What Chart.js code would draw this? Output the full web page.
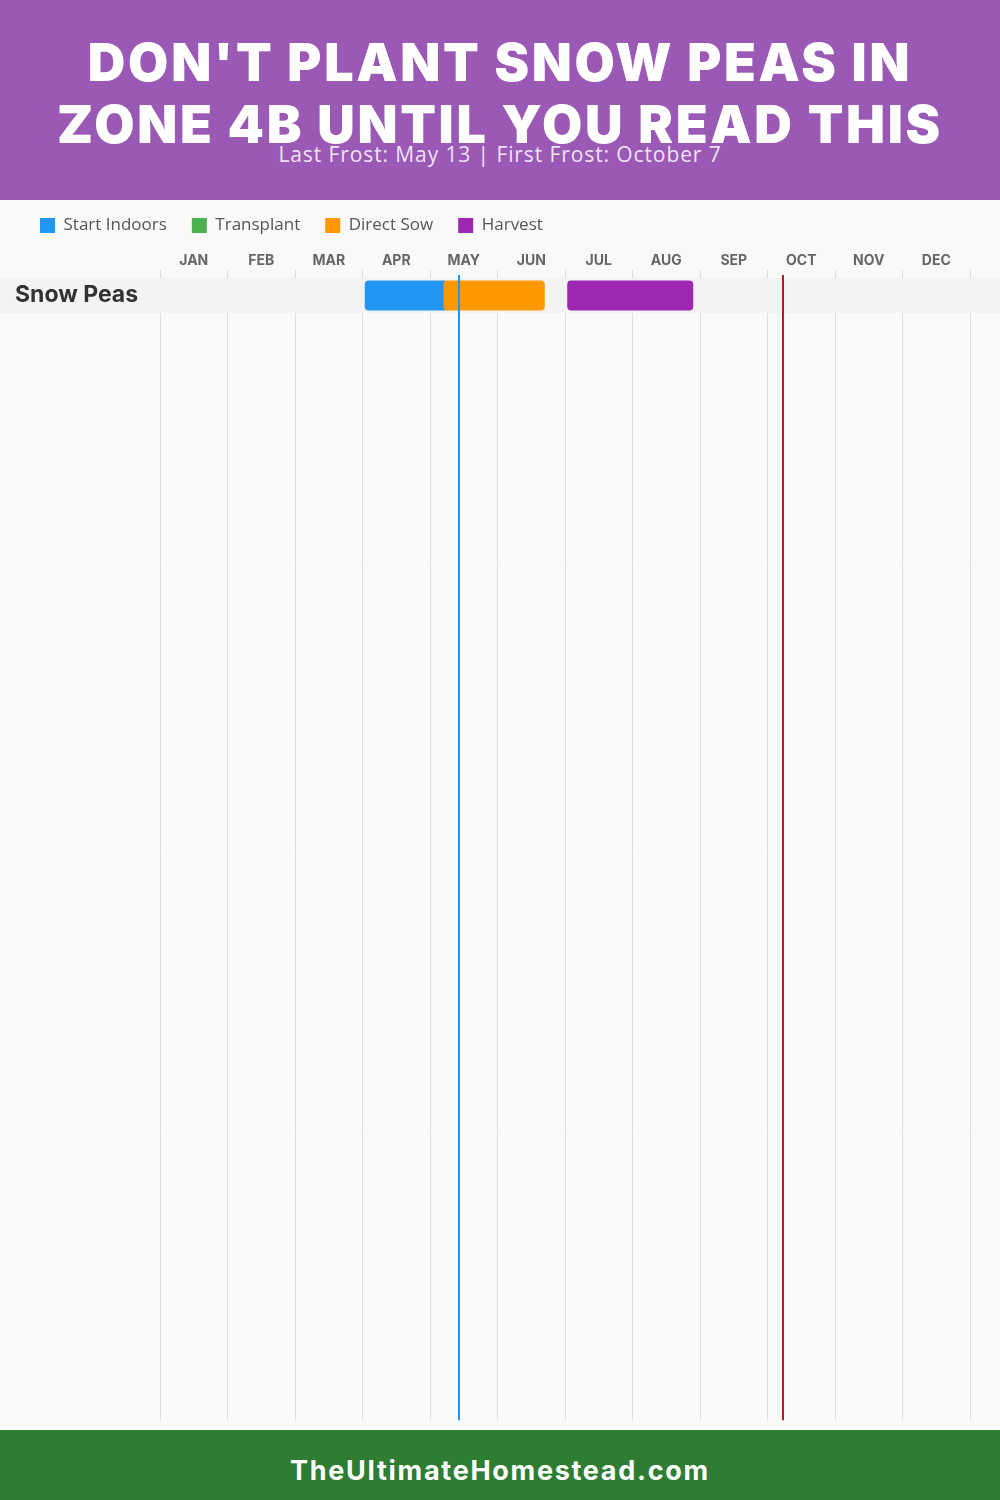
<!DOCTYPE html>
<html>
<head>
<meta charset="utf-8">
<title>Snow Peas - Zone 4B</title>
<script src="https://cdn.jsdelivr.net/npm/chart.js@4.4.1/dist/chart.umd.min.js"></script>
<style>
  html, body { margin: 0; padding: 0; }
  body { width: 1000px; height: 1500px; position: relative; overflow: hidden; background: #f9f9f7; font-family: 'Open Sans', sans-serif; }
  .header { position: absolute; top: 0; left: 0; width: 1000px; height: 200px; background: #9b59b6; color: #fff; text-align: center; z-index: 2; }
  .header h1 { position: absolute; top: 32px; left: 0; width: 100%; margin: 0; font-family: Inter, sans-serif; font-weight: 900; font-size: 52px; letter-spacing: 2.7px; line-height: 62px; }
  .header .sub { position: absolute; top: 141px; left: 0; width: 100%; font-size: 21px; letter-spacing: 0.9px; line-height: 26px; color: rgba(255,255,255,0.85); }
  .chart-box { position: absolute; top: 192px; left: 0; width: 1000px; height: 1245px; }
  .footer { position: absolute; top: 1430px; left: 0; width: 1000px; height: 64px; padding-top: 6px; background: #2e7d32; color: #fff; text-align: center; z-index: 2; font-family: Inter, sans-serif; font-weight: 700; font-size: 27px; letter-spacing: 1.7px; line-height: 70px; }
</style>
</head>
<body>
<div class="header">
  <h1>DON'T PLANT SNOW PEAS IN<br>ZONE 4B UNTIL YOU READ THIS</h1>
  <div class="sub">Last Frost: May 13 | First Frost: October 7</div>
</div>
<div class="chart-box"><canvas id="plantingChart"></canvas></div>
<div class="footer">TheUltimateHomestead.com</div>

<script>
const months = ['JAN', 'FEB', 'MAR', 'APR', 'MAY', 'JUN', 'JUL', 'AUG', 'SEP', 'OCT', 'NOV', 'DEC'];
const crops = ['Snow Peas'];

// periodos [mes, dia] de inicio y fin, uno por cultivo
const startIndoors = [[[4, 1], [5, 8]]];
const transplant = [null];
const directSow = [[[5, 6], [6, 21]]];
const harvest = [[[7, 1], [8, 27]]];

const lastFrost = [5, 13];
const firstFrost = [10, 7];

// mes + dia/30 -> posicion en el eje (0 = 1 de enero)
function toPos(md) {
    return (md[0] - 1) + md[1] / 30;
}

function toBars(spans) {
    const out = [];
    spans.forEach((span, i) => {
        if (span) out.push({ x: [toPos(span[0]), toPos(span[1])], y: i + 0.5 });
    });
    return out;
}

// franja gris detras de cada fila + lineas de heladas
const rowBands = {
    id: 'rowBands',
    beforeDatasetsDraw(chart) {
        const { ctx, scales: { y } } = chart;
        ctx.save();
        ctx.fillStyle = '#f3f3f2';
        crops.forEach((c, i) => {
            const top = y.getPixelForValue(i);
            const bottom = y.getPixelForValue(i + 1);
            ctx.fillRect(0, top, chart.width, bottom - top);
        });
        ctx.restore();
    },
    afterDatasetsDraw(chart) {
        const { ctx, chartArea, scales: { x } } = chart;
        const lines = [[lastFrost, '#2196f3'], [firstFrost, '#b71c1c']];
        ctx.save();
        ctx.lineWidth = 2;
        lines.forEach(([md, color]) => {
            const px = Math.round(x.getPixelForValue(toPos(md)));
            ctx.strokeStyle = color;
            ctx.beginPath();
            ctx.moveTo(px, chartArea.top - 3);
            ctx.lineTo(px, chartArea.bottom);
            ctx.stroke();
        });
        ctx.restore();
    }
};

// la leyenda ocupa menos alto del que calcula Chart.js
const legendHeight = {
    id: 'legendHeight',
    beforeInit(chart) {
        const fit = chart.legend.fit;
        chart.legend.fit = function () {
            fit.call(this);
            this.height = 59.2;
        };
    }
};

const ctx = document.getElementById('plantingChart').getContext('2d');
const plantingChart = new Chart(ctx, {
    type: 'bar',
    data: {
        datasets: [
            { label: 'Start Indoors', data: toBars(startIndoors), backgroundColor: '#2196f3', order: 4 },
            { label: 'Transplant', data: toBars(transplant), backgroundColor: '#4caf50', order: 3 },
            { label: 'Direct Sow', data: toBars(directSow), backgroundColor: '#ff9800', order: 2 },
            { label: 'Harvest', data: toBars(harvest), backgroundColor: '#9c27b0', order: 1 }
        ]
    },
    options: {
        indexAxis: 'y',
        responsive: true,
        maintainAspectRatio: false,
        animation: false,
        grouped: false,
        maxBarThickness: 30,
        borderRadius: 4,
        borderSkipped: false,
        borderWidth: 0,
        layout: { padding: { left: 15, right: 30, top: 0, bottom: 10 } },
        plugins: {
            legend: {
                position: 'top',
                align: 'start',
                labels: {
                    boxWidth: 15,
                    boxHeight: 15,
                    padding: 25,
                    color: '#555',
                    font: { family: 'Open Sans', size: 17 },
                    sort: (a, b) => a.datasetIndex - b.datasetIndex
                }
            },
            tooltip: { enabled: false }
        },
        scales: {
            x: { type: 'linear', min: 0, max: 12, display: false },
            months: {
                type: 'category',
                labels: months,
                position: 'top',
                offset: true,
                grid: { offset: true, color: '#dddddd', tickLength: 8 },
                border: { display: false },
                ticks: {
                    color: '#666',
                    padding: 1,
                    autoSkip: false,
                    maxRotation: 0,
                    font: { family: 'Inter', weight: 'bold', size: 14 }
                }
            },
            y: {
                type: 'linear',
                reverse: true,
                offset: false,
                min: 0,
                max: 32.63,
                grid: { display: false },
                border: { display: false },
                afterBuildTicks: scale => {
                    scale.ticks = crops.map((c, i) => ({ value: i + 0.5 }));
                },
                afterFit: scale => { scale.width = 145; },
                ticks: {
                    z: 1,
                    callback: (value, index) => crops[index],
                    crossAlign: 'far',
                    color: '#333',
                    font: { family: 'Inter', weight: 'bold', size: 23 }
                }
            }
        }
    },
    plugins: [rowBands, legendHeight]
});
</script>
</body>
</html>
